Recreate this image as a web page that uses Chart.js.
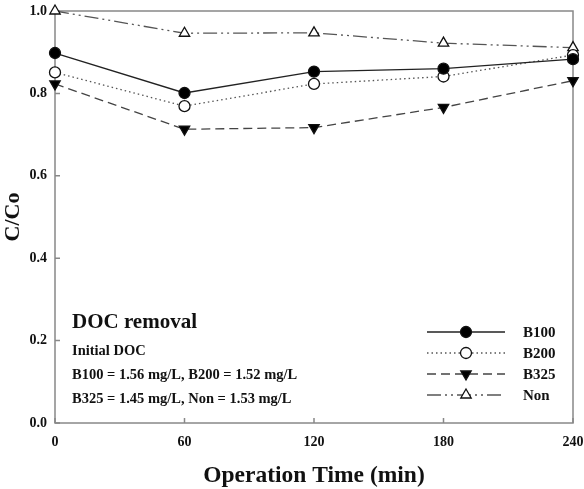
<!DOCTYPE html>
<html><head><meta charset="utf-8">
<script src="https://cdn.jsdelivr.net/npm/chart.js@4/dist/chart.umd.min.js"></script>
<style>html,body{margin:0;padding:0;background:#fff}#wrap{width:584px;height:489px}</style>
</head><body><div id="wrap"><canvas id="c" width="584" height="489"></canvas></div>
<script>
const times = [0, 60, 120, 180, 240];
const seriesNames = ['B100', 'B200', 'B325', 'Non'];
const b100 = [0.898, 0.801, 0.853, 0.860, 0.883];
const b200 = [0.851, 0.769, 0.823, 0.841, 0.893];
const b325 = [0.823, 0.713, 0.717, 0.766, 0.831];
const non  = [1.000, 0.946, 0.947, 0.922, 0.911];
const yTicks = [0.0, 0.2, 0.4, 0.6, 0.8, 1.0];
const xTicks = [0, 60, 120, 180, 240];
const notes = ['Initial DOC', 'B100 = 1.56 mg/L, B200 = 1.52 mg/L', 'B325 = 1.45 mg/L, Non = 1.53 mg/L'];

const SERIF = '"Liberation Serif","Times New Roman",serif';
const toPts = arr => arr.map((v, i) => ({x: times[i], y: v}));

const styles = [
  {data: b100, dash: [], color: '#222', ps: 'circle', fill: '#000', rot: 0, r: 5.5, lw: 1.3},
  {data: b200, dash: [1.5, 3], color: '#555', ps: 'circle', fill: '#fff', rot: 0, r: 5.5, lw: 1.3},
  {data: b325, dash: [9, 5], color: '#444', ps: 'triangle', fill: '#000', rot: 180, r: 6, lw: 1.3},
  {data: non,  dash: [14, 4, 2, 4, 2, 4], color: '#555', ps: 'triangle', fill: '#fff', rot: 0, r: 6, lw: 1.3}
];

const datasets = styles.map((s, i) => ({
  label: seriesNames[i], data: toPts(s.data),
  borderColor: s.color, borderWidth: s.lw, borderDash: s.dash,
  pointStyle: s.ps, pointRotation: s.rot, pointRadius: s.r,
  pointBackgroundColor: s.fill, pointBorderColor: '#111', pointBorderWidth: 1.3,
  tension: 0, fill: false, clip: false
}));

const frame = {
  id: 'frame',
  beforeDatasetsDraw(chart) {
    const {ctx, chartArea: a, scales: {x, y}} = chart;
    ctx.save();
    ctx.strokeStyle = '#888'; ctx.lineWidth = 1.5;
    ctx.strokeRect(a.left, a.top, a.right - a.left, a.bottom - a.top);
    ctx.beginPath();
    yTicks.forEach(v => { const p = y.getPixelForValue(v); ctx.moveTo(a.left, p); ctx.lineTo(a.left + 5, p); });
    xTicks.forEach(v => { const p = x.getPixelForValue(v); ctx.moveTo(p, a.bottom); ctx.lineTo(p, a.bottom - 5); });
    ctx.stroke();
    ctx.restore();
  },
  afterDraw(chart) {
    const {ctx} = chart;
    ctx.save();
    ctx.fillStyle = '#111'; ctx.textBaseline = 'alphabetic'; ctx.textAlign = 'left';
    ctx.font = 'bold 21px ' + SERIF;
    ctx.fillText('DOC removal', 72, 328);
    ctx.font = 'bold 14.5px ' + SERIF;
    notes.forEach((t, i) => ctx.fillText(t, 72, 355 + i * 24));
    styles.forEach((s, i) => {
      const yy = 332 + i * 21, x0 = 427, x1 = 505, xm = 466;
      ctx.save();
      ctx.strokeStyle = s.color; ctx.lineWidth = s.lw; ctx.setLineDash(s.dash);
      ctx.beginPath(); ctx.moveTo(x0, yy); ctx.lineTo(x1, yy); ctx.stroke();
      ctx.restore();
      ctx.save();
      ctx.fillStyle = s.fill; ctx.strokeStyle = '#111'; ctx.lineWidth = 1.3;
      Chart.helpers.drawPoint(ctx, {pointStyle: s.ps, rotation: s.rot, radius: s.r, borderWidth: 1.3}, xm, yy);
      ctx.restore();
      ctx.fillStyle = '#111'; ctx.font = 'bold 15px ' + SERIF; ctx.textBaseline = 'middle';
      ctx.fillText(seriesNames[i], 523, yy + 1);
    });
    ctx.restore();
  }
};

new Chart(document.getElementById('c'), {
  type: 'line',
  data: {datasets},
  options: {
    responsive: false, animation: false, devicePixelRatio: 1,
    layout: {padding: {top: 11, right: 11, left: 0, bottom: 0}},
    plugins: {legend: {display: false}, tooltip: {enabled: false}},
    scales: {
      x: {
        type: 'linear', min: 0, max: 240,
        afterBuildTicks: s => { s.ticks = xTicks.map(v => ({value: v})); },
        afterFit: s => { s.height = 66; s.paddingLeft = 0; s.paddingRight = 0; },
        grid: {display: false, drawTicks: false},
        border: {display: false},
        ticks: {color: '#111', padding: 11, font: {family: SERIF, weight: 'bold', size: 14}},
        title: {display: true, text: 'Operation Time (min)', color: '#111', padding: {top: 0, bottom: -1},
                font: {family: SERIF, weight: 'bold', size: 23.5}}
      },
      y: {
        type: 'linear', min: 0, max: 1,
        afterBuildTicks: s => { s.ticks = yTicks.map(v => ({value: v})); },
        afterFit: s => { s.width = 55; s.paddingTop = 0; s.paddingBottom = 0; },
        grid: {display: false, drawTicks: false},
        border: {display: false},
        ticks: {color: '#111', padding: 8, callback: v => v.toFixed(1),
                font: {family: SERIF, weight: 'bold', size: 14}},
        title: {display: true, text: 'C/Co', color: '#111', padding: {top: 0, bottom: 0},
                font: {family: SERIF, weight: 'bold', size: 22}}
      }
    }
  },
  plugins: [frame]
});
</script>
</body></html>
